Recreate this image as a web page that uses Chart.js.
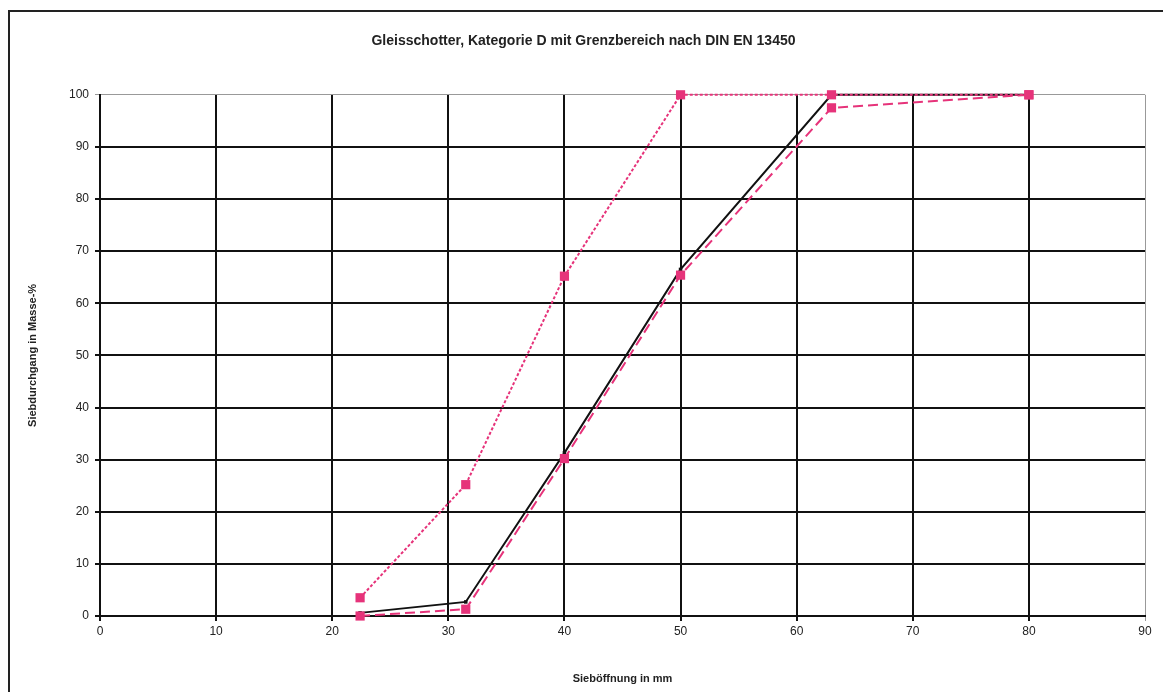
<!DOCTYPE html>
<html>
<head>
<meta charset="utf-8">
<script src="https://cdn.jsdelivr.net/npm/chart.js@4/dist/chart.umd.min.js"></script>
<style>
  html, body { margin: 0; padding: 0; background: #fff; overflow: hidden; }
  #wrap { position: relative; width: 1163px; height: 692px; }
  #frame { position: absolute; left: 8px; top: 10px; width: 1200px; height: 720px; border: 2px solid #222; box-sizing: border-box; pointer-events: none; }
  canvas { position: absolute; left: 0; top: 0; }
</style>
</head>
<body>
<div id="wrap">
  <div id="frame"></div>
  <canvas id="c" width="1163" height="692"></canvas>
</div>
<script>
// Data
const sieveSizes = [22.4, 31.5, 40, 50, 63, 80];
const upperLimit = [3.5, 25.2, 65.2, 100, 100, 100];
const lowerLimit = [0, 1.3, 30.2, 65.4, 97.5, 100];
const sample = [0.6, 2.7, 31.3, 66.5, 100, 100];
const xTicks = [0, 10, 20, 30, 40, 50, 60, 70, 80, 90];
const yTicks = [0, 10, 20, 30, 40, 50, 60, 70, 80, 90, 100];
const chartTitle = 'Gleisschotter, Kategorie D mit Grenzbereich nach DIN EN 13450';
const xTitle = 'Sieböffnung in mm';
const yTitle = 'Siebdurchgang in Masse-%';

const toPts = (ys) => sieveSizes.map((x, i) => ({ x: x, y: ys[i] }));
const pink = '#e6337a';
const FONT = 'Liberation Sans, Arial, sans-serif';

new Chart(document.getElementById('c'), {
  type: 'scatter',
  data: {
    datasets: [
      {
        label: 'Obergrenze',
        data: toPts(upperLimit),
        showLine: true,
        clip: false,
        borderColor: pink,
        backgroundColor: pink,
        borderWidth: 2,
        borderDash: [3, 2],
        pointStyle: 'rect',
        pointRadius: 6.5,
        pointBorderWidth: 0
      },
      {
        label: 'Untergrenze',
        data: toPts(lowerLimit),
        showLine: true,
        clip: false,
        borderColor: pink,
        backgroundColor: pink,
        borderWidth: 2,
        borderDash: [10, 5],
        pointStyle: 'rect',
        pointRadius: 6.5,
        pointBorderWidth: 0
      },
      {
        label: 'Probe',
        data: toPts(sample),
        showLine: true,
        clip: false,
        borderColor: '#111',
        backgroundColor: '#111',
        borderWidth: 2,
        pointStyle: 'rect',
        pointRadius: 2.5,
        pointBorderWidth: 0
      }
    ]
  },
  options: {
    responsive: false,
    animation: false,
    events: [],
    layout: { padding: { left: 22, right: 18, top: 33, bottom: 2 } },
    plugins: {
      legend: { display: false },
      tooltip: { enabled: false },
      title: {
        display: true,
        text: chartTitle,
        color: '#222',
        font: { family: FONT, size: 14, weight: 'bold' },
        padding: { top: 0, bottom: 45 }
      }
    },
    scales: {
      x: {
        type: 'linear',
        min: 0,
        max: 90,
        afterBuildTicks: (s) => { s.ticks = xTicks.map(v => ({ value: v })); },
        afterFit: (s) => { s.height = 74; },
        border: { color: '#111', width: 2 },
        grid: {
          color: (ctx) => (ctx.tick && ctx.tick.value === 90) ? '#999' : '#111',
          lineWidth: (ctx) => (ctx.tick && ctx.tick.value === 90) ? 1 : 2,
          tickLength: 5
        },
        ticks: {
          color: '#222',
          font: { family: FONT, size: 12 },
          padding: 3,
          maxRotation: 0
        },
        title: {
          display: true,
          text: xTitle,
          color: '#222',
          font: { family: FONT, size: 11, weight: 'bold' },
          padding: { top: 4, bottom: 4 }
        }
      },
      y: {
        type: 'linear',
        min: 0,
        max: 100,
        afterBuildTicks: (s) => { s.ticks = yTicks.map(v => ({ value: v })); },
        afterFit: (s) => { s.width = 78; },
        border: { color: '#111', width: 2 },
        grid: {
          color: (ctx) => (ctx.tick && ctx.tick.value === 100) ? '#999' : '#111',
          lineWidth: (ctx) => (ctx.tick && ctx.tick.value === 100) ? 1 : 2,
          tickLength: 5
        },
        ticks: {
          color: '#222',
          font: { family: FONT, size: 12 },
          padding: 6
        },
        title: {
          display: true,
          text: yTitle,
          color: '#222',
          font: { family: FONT, size: 11, weight: 'bold' },
          padding: { top: 4, bottom: 4 }
        }
      }
    }
  }
});
</script>
</body>
</html>
